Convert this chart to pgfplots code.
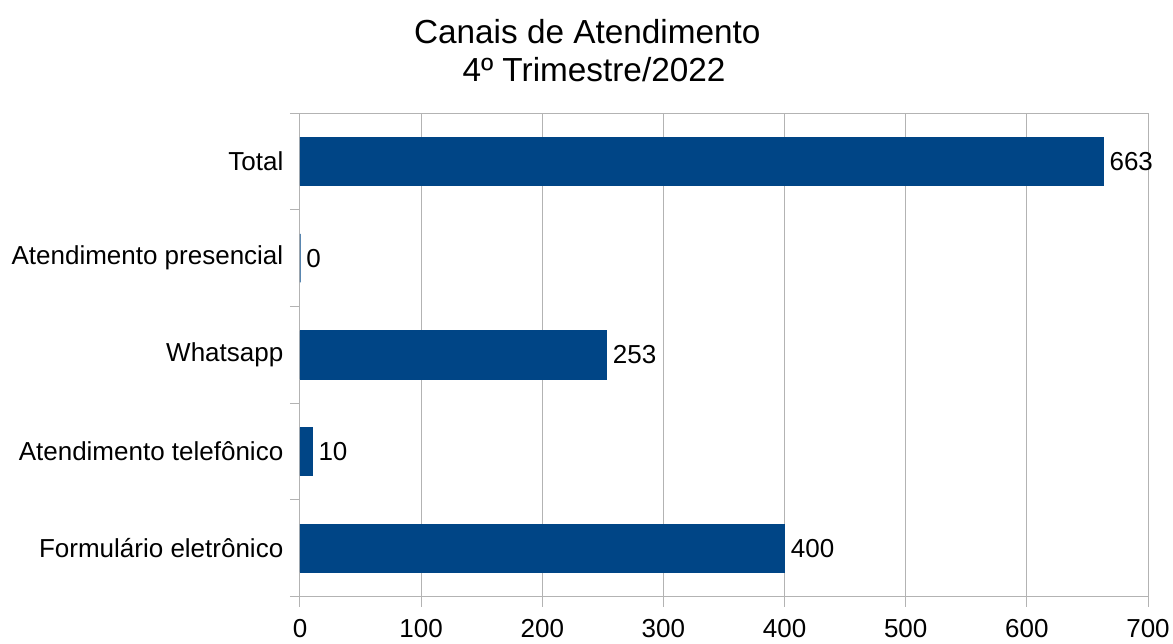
\documentclass[border=0pt]{standalone}
\usepackage{fontspec}
\setmainfont{Liberation Sans}
\usepackage{pgfplots}
\pgfplotsset{compat=1.18}
\definecolor{barblue}{HTML}{004586}
\definecolor{gridgray}{HTML}{B3B3B3}
\begin{document}
\begin{tikzpicture}
\useasboundingbox (-225pt,-34.9pt) rectangle (654.75pt,447.4pt);
\begin{axis}[
  at={(0,0)}, anchor=south west,
  scale only axis, width=636pt, height=362.6pt,
  xbar, bar width=0.5,
  xmin=0, xmax=700, ymin=-0.5, ymax=4.5,
  xtick={0,100,...,700},
  ytick={0,...,4},
  yticklabels={Formulário eletrônico, Atendimento telefônico, Whatsapp, Atendimento presencial, Total},
  minor ytick={-0.5,0.5,...,4.5},
  major y tick style={draw=none},
  tick pos=left,
  tick align=outside,
  major tick length=7.5pt, minor tick length=7.5pt,
  tick style={gridgray, line width=0.75pt},
  axis line style={gridgray, line width=0.75pt},
  xmajorgrids, grid style={gridgray, line width=0.75pt},
  /pgf/number format/assume math mode=true,
  ticklabel style={font=\fontsize{19.5}{22}\selectfont, black},
  xticklabel style={yshift=-6pt},
  yticklabel style={xshift=-1.5pt},
  point meta=x,
  nodes near coords,
  nodes near coords align=horizontal,
  every node near coord/.append style={font=\fontsize{19.5}{22}\selectfont, black, anchor=west, inner sep=4.5pt,
    /pgf/number format/fixed, /pgf/number format/precision=0, /pgf/number format/assume math mode=true},
]
\addplot[draw=barblue, fill=barblue, line width=0.6pt] coordinates {
  (400,0) (10,1) (253,2) (0,3) (663,4)
};
\end{axis}
\node[anchor=base, font=\fontsize{25}{30}\selectfont] at (215.5pt,415.1pt) {Canais de Atendimento};
\node[anchor=base, font=\fontsize{25}{30}\selectfont] at (220.5pt,385.9pt) {4º Trimestre/2022};
\end{tikzpicture}
\end{document}
